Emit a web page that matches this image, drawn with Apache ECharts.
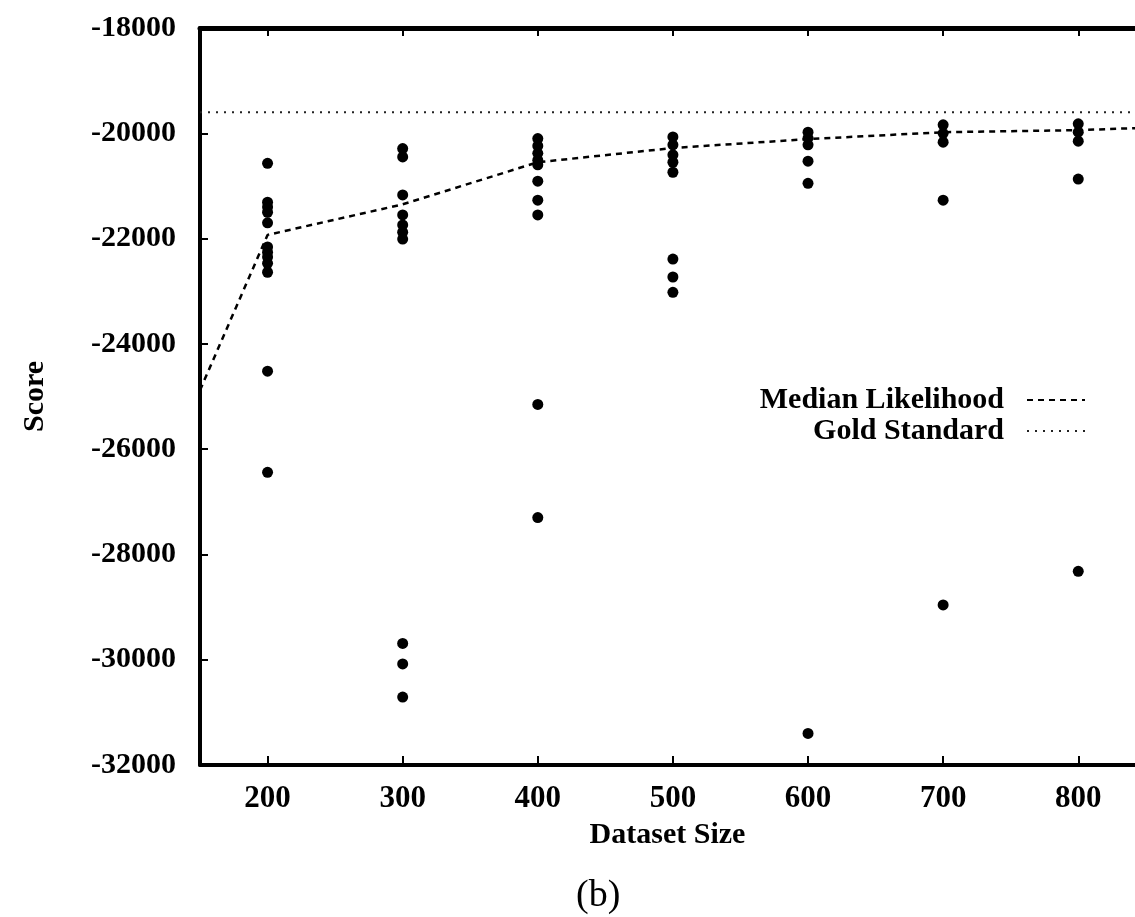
<!DOCTYPE html>
<html>
<head>
<meta charset="utf-8">
<script src="https://cdn.jsdelivr.net/npm/echarts@6/dist/echarts.min.js"></script>
<style>
html,body{margin:0;padding:0;background:#fff;}
#chart{width:1135px;height:917px;}
</style>
</head>
<body>
<div id="chart"></div>
<script>
// ---- data ----
const xTicks = [200, 300, 400, 500, 600, 700, 800];
const yTicks = [-32000, -30000, -28000, -26000, -24000, -22000, -20000, -18000];

const scores200 = [-20570, -21310, -21400, -21500, -21700, -22160, -22260, -22350, -22470, -22640, -24520, -26440];
const scores300 = [-20290, -20450, -21170, -21550, -21740, -21880, -22010, -29690, -30080, -30710];
const scores400 = [-20100, -20240, -20380, -20510, -20600, -20910, -21270, -21550, -25150, -27300];
const scores500 = [-20070, -20220, -20410, -20550, -20740, -22390, -22730, -23020];
const scores600 = [-19980, -20090, -20220, -20530, -20950, -31400];
const scores700 = [-19840, -20000, -20170, -21270, -28960];
const scores800 = [-19820, -19980, -20150, -20870, -28320];

const medianX = [150, 200, 300, 400, 500, 600, 700, 800, 900];
const medianY = [-24880, -21930, -21350, -20550, -20280, -20110, -19980, -19940, -19850];

const goldX = [150, 900];
const goldY = [-19600, -19600];

// ---- build series data ----
const runGroups = [scores200, scores300, scores400, scores500, scores600, scores700, scores800];
const scatterData = [];
runGroups.forEach((grp, i) => grp.forEach(v => scatterData.push([xTicks[i], v])));
const medianData = medianX.map((x, i) => [x, medianY[i]]);
const goldData = goldX.map((x, i) => [x, goldY[i]]);

const serif = 'Liberation Serif, Times New Roman, serif';
const legendCommon = {
  right: 44, align: 'right',
  itemWidth: 58, itemHeight: 14,
  itemStyle: { opacity: 0 },
  textStyle: { fontFamily: serif, fontSize: 30, fontWeight: 'bold', color: '#000', padding: [0, 18, 0, 0] }
};
const chart = echarts.init(document.getElementById('chart'));
chart.setOption({
  backgroundColor: '#fff',
  animation: false,
  title: {
    text: '(b)',
    left: 571, top: 872,
    textStyle: { fontFamily: serif, fontSize: 38, fontWeight: 'normal', color: '#000' }
  },
  legend: [
    Object.assign({ data: ['Median Likelihood'], top: 380 }, legendCommon),
    Object.assign({ data: ['Gold Standard'], top: 411 }, legendCommon)
  ],
  grid: { left: 200, right: 0, top: 28, bottom: 152, containLabel: false },
  xAxis: [
    {
      type: 'value', min: 150, max: 842, position: 'bottom',
      name: 'Dataset Size', nameLocation: 'middle', nameGap: 55,
      nameTextStyle: { fontFamily: serif, fontSize: 30, fontWeight: 'bold', color: '#000' },
      axisLine: { show: true, lineStyle: { color: '#000', width: 4 } },
      axisTick: { show: true, inside: true, length: 9, customValues: xTicks, lineStyle: { color: '#000', width: 2 } },
      axisLabel: { customValues: xTicks, margin: 18, fontFamily: serif, fontSize: 31, fontWeight: 'bold', color: '#000',
        formatter: v => String(v) },
      splitLine: { show: false }
    },
    {
      type: 'value', min: 150, max: 842, position: 'top',
      axisLine: { show: true, onZero: false, lineStyle: { color: '#000', width: 5 } },
      axisTick: { show: true, inside: true, length: 8, customValues: xTicks, lineStyle: { color: '#000', width: 2 } },
      axisLabel: { show: false },
      splitLine: { show: false }
    }
  ],
  yAxis: {
    type: 'value', min: -32000, max: -18000, interval: 2000,
    name: 'Score', nameLocation: 'middle', nameGap: 150, nameRotate: 90,
    nameTextStyle: { fontFamily: serif, fontSize: 30, fontWeight: 'bold', color: '#000' },
    axisLine: { show: true, onZero: false, lineStyle: { color: '#000', width: 4 } },
    axisTick: { show: true, inside: true, length: 8, lineStyle: { color: '#000', width: 2 } },
    axisLabel: { margin: 24, fontFamily: serif, fontSize: 30, fontWeight: 'bold', color: '#000',
      customValues: yTicks, formatter: v => String(v) },
    splitLine: { show: false }
  },
  series: [
    {
      name: 'Runs', type: 'scatter', data: scatterData,
      symbol: 'circle', symbolSize: 11,
      itemStyle: { color: '#000', opacity: 1 }, z: 3
    },
    {
      name: 'Median Likelihood', type: 'line', data: medianData,
      symbol: 'none', clip: true,
      lineStyle: { color: '#000', width: 2.5, type: [6, 5] },
      itemStyle: { color: '#000' }, z: 2
    },
    {
      name: 'Gold Standard', type: 'line', data: goldData,
      symbol: 'none', clip: true,
      lineStyle: { color: '#222', width: 2, type: [2, 6] },
      itemStyle: { color: '#222' }, z: 1
    }
  ]
});
</script>
</body>
</html>
